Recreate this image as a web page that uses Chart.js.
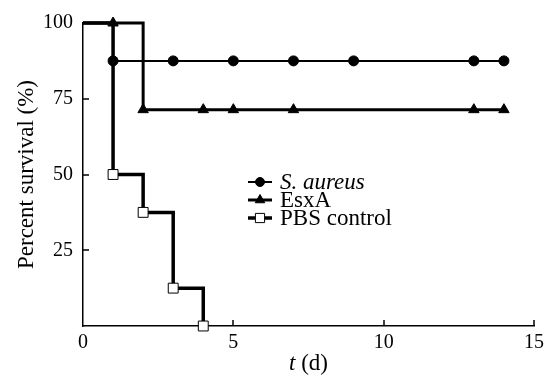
<!DOCTYPE html>
<html>
<head>
<meta charset="utf-8">
<script src="https://cdn.jsdelivr.net/npm/chart.js@4.4.1/dist/chart.umd.min.js"></script>
<style>
  html, body { margin: 0; padding: 0; background: #fff; }
  #wrap { width: 552px; height: 377px; }
</style>
</head>
<body>
<div id="wrap"><canvas id="survivalChart" width="552" height="377"></canvas></div>
<script>
// Survival data (days, percent surviving)
const aureusDays = [0, 1, 3, 5, 7, 9, 13, 14];
const aureusSurvival = [100, 87.5, 87.5, 87.5, 87.5, 87.5, 87.5, 87.5];
const esxaDays = [0, 1, 2, 4, 5, 7, 13, 14];
const esxaSurvival = [100, 100, 71.4, 71.4, 71.4, 71.4, 71.4, 71.4];
const pbsDays = [0, 1, 2, 3, 4];
const pbsSurvival = [100, 50, 37.5, 12.5, 0];
const xTicks = [0, 5, 10, 15];
const yTicks = [25, 50, 75, 100];
const seriesNames = ['S. aureus', 'EsxA', 'PBS control'];

const FONT = '"Liberation Serif", "Times New Roman", serif';

function toPoints(days, vals) {
    return days.map(function(d, i) { return { x: d, y: vals[i] }; });
}
// no marker on the starting point at day 0
function hideFirst(r) {
    return function(ctx) { return ctx.dataIndex === 0 ? 0 : r; };
}

// inward tick marks, axis titles and the hand-made legend
const extras = {
    id: 'extras',
    afterDatasetsDraw(chart) {
        const ctx = chart.ctx;
        const xs = chart.scales.x, ys = chart.scales.y;
        const area = chart.chartArea;
        ctx.save();
        ctx.strokeStyle = '#000';
        ctx.lineWidth = 1.5;
        xTicks.forEach(function(t) {
            if (t === 0) return;
            const px = Math.round(xs.getPixelForValue(t));
            ctx.beginPath();
            ctx.moveTo(px, area.bottom);
            ctx.lineTo(px, area.bottom - 6);
            ctx.stroke();
        });
        yTicks.forEach(function(t) {
            const py = Math.round(ys.getPixelForValue(t));
            ctx.beginPath();
            ctx.moveTo(area.left, py);
            ctx.lineTo(area.left + 6, py);
            ctx.stroke();
        });

        // x title: italic t
        ctx.fillStyle = '#000';
        ctx.textBaseline = 'middle';
        const cx = (area.left + area.right) / 2;
        ctx.font = 'italic 23px ' + FONT;
        const tW = ctx.measureText('t').width;
        ctx.font = '23px ' + FONT;
        const restW = ctx.measureText(' (d)').width;
        const sx = cx - (tW + restW) / 2;
        ctx.textAlign = 'left';
        ctx.font = 'italic 23px ' + FONT;
        ctx.fillText('t', sx, 364);
        ctx.font = '23px ' + FONT;
        ctx.fillText(' (d)', sx + tW, 364);

        // y title
        ctx.save();
        ctx.translate(27, (area.top + area.bottom) / 2);
        ctx.rotate(-Math.PI / 2);
        ctx.textAlign = 'center';
        ctx.fillText('Percent survival (%)', 0, 0);
        ctx.restore();

        // legend
        const rows = [182, 200, 218];
        chart.data.datasets.forEach(function(ds, i) {
            const y = rows[i];
            ctx.strokeStyle = '#000';
            ctx.lineWidth = ds.borderWidth;
            ctx.beginPath();
            ctx.moveTo(248, y);
            ctx.lineTo(272, y);
            ctx.stroke();
            ctx.fillStyle = ds.pointBackgroundColor;
            ctx.strokeStyle = '#000';
            ctx.lineWidth = 1;
            Chart.helpers.drawPoint(ctx, {
                pointStyle: ds.pointStyle,
                radius: ds.legendRadius,
                rotation: 0,
                borderWidth: 1
            }, 260, y);
            ctx.fillStyle = '#000';
            ctx.font = (i === 0 ? 'italic ' : '') + '23px ' + FONT;
            ctx.textAlign = 'left';
            ctx.fillText(seriesNames[i], 280, y + 1);
        });
        ctx.restore();
    }
};

const survivalChart = new Chart(document.getElementById('survivalChart').getContext('2d'), {
    type: 'scatter',
    data: {
        datasets: [
            {
                label: seriesNames[0],
                data: toPoints(aureusDays, aureusSurvival),
                showLine: true,
                stepped: 'before',
                borderColor: '#000',
                borderWidth: 2,
                pointStyle: 'circle',
                pointRadius: hideFirst(5),
                pointBackgroundColor: '#000',
                pointBorderColor: '#000',
                pointBorderWidth: 1,
                legendRadius: 4.5,
                clip: false,
                order: 3
            },
            {
                label: seriesNames[1],
                data: toPoints(esxaDays, esxaSurvival),
                showLine: true,
                stepped: 'before',
                borderColor: '#000',
                borderWidth: 3,
                pointStyle: 'triangle',
                pointRadius: hideFirst(6),
                pointBackgroundColor: '#000',
                pointBorderColor: '#000',
                pointBorderWidth: 1,
                legendRadius: 5.5,
                clip: false,
                order: 2
            },
            {
                label: seriesNames[2],
                data: toPoints(pbsDays, pbsSurvival),
                showLine: true,
                stepped: 'before',
                borderColor: '#000',
                borderWidth: 3.5,
                pointStyle: 'rect',
                pointRadius: hideFirst(7),
                pointBackgroundColor: '#fff',
                pointBorderColor: '#000',
                pointBorderWidth: 1,
                legendRadius: 6.5,
                clip: false,
                order: 1
            }
        ]
    },
    options: {
        responsive: false,
        animation: false,
        events: [],
        layout: { padding: { left: 0, right: 18, top: 23, bottom: 0 } },
        plugins: {
            legend: { display: false },
            tooltip: { enabled: false }
        },
        scales: {
            x: {
                type: 'linear',
                min: 0,
                max: 15,
                afterFit: function(scale) { scale.height = 51; },
                afterBuildTicks: function(scale) {
                    scale.ticks = xTicks.map(function(v) { return { value: v }; });
                },
                grid: { drawOnChartArea: false, drawTicks: false },
                border: { display: true, color: '#000', width: 1.5 },
                ticks: { color: '#000', padding: 5, font: { family: FONT, size: 20 } }
            },
            y: {
                min: 0,
                max: 100,
                afterFit: function(scale) { scale.width = 83; },
                afterBuildTicks: function(scale) {
                    scale.ticks = yTicks.map(function(v) { return { value: v }; });
                },
                grid: { drawOnChartArea: false, drawTicks: false },
                border: { display: true, color: '#000', width: 1.5 },
                ticks: { color: '#000', padding: 10, font: { family: FONT, size: 20 } }
            }
        }
    },
    plugins: [extras]
});
</script>
</body>
</html>
